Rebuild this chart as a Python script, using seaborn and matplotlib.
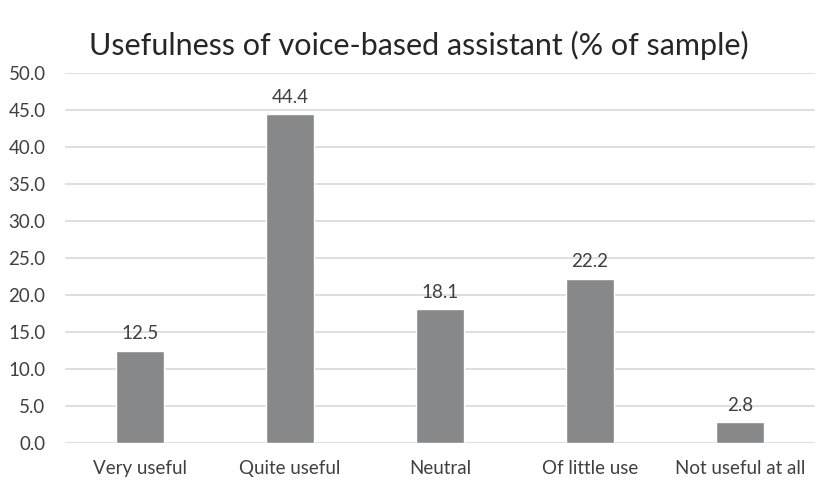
import matplotlib
matplotlib.use("Agg")
import matplotlib.pyplot as plt
import seaborn as sns
import pandas as pd

categories = ["Very useful", "Quite useful", "Neutral", "Of little use", "Not useful at all"]
values = [12.5, 44.4, 18.1, 22.2, 2.8]
yticks = [0, 5, 10, 15, 20, 25, 30, 35, 40, 45, 50]

sns.set_theme(style="white")
plt.rcParams["font.family"] = ["Lato", "DejaVu Sans"]

df = pd.DataFrame({"category": categories, "value": values})

fig = plt.figure(figsize=(8.17, 4.8), dpi=100)
ax = fig.add_axes([65 / 817, 1 - 443 / 480, 750 / 817, 370 / 480])

text_color = "#404040"
sns.barplot(data=df, x="category", y="value", color="#87888a", saturation=1,
            width=0.32, ax=ax, zorder=3)

ax.set_ylim(0, 50)
ax.set_yticks(yticks)
ax.set_yticklabels([f"{t:.1f}" for t in yticks], fontsize=13.5, color=text_color)
ax.tick_params(axis="x", labelsize=13.5, labelcolor=text_color, length=0, pad=12)
ax.tick_params(axis="y", length=0, pad=14)
ax.yaxis.grid(True, color="#d9d9d9", linewidth=1.2, zorder=0)
ax.set_axisbelow(True)
for s in ax.spines.values():
    s.set_visible(False)
ax.set_xlabel("")
ax.set_ylabel("")

for p, v in zip(ax.patches, values):
    ax.annotate(f"{v:.1f}", (p.get_x() + p.get_width() / 2, v),
                xytext=(0, 6), textcoords="offset points",
                ha="center", va="bottom", fontsize=13.5, color=text_color)

fig.text(0.513, 0.905, "Usefulness of voice-based assistant (% of sample)",
         ha="center", va="center", fontsize=22, color="#262626")

fig.savefig("out.png", dpi=100)
